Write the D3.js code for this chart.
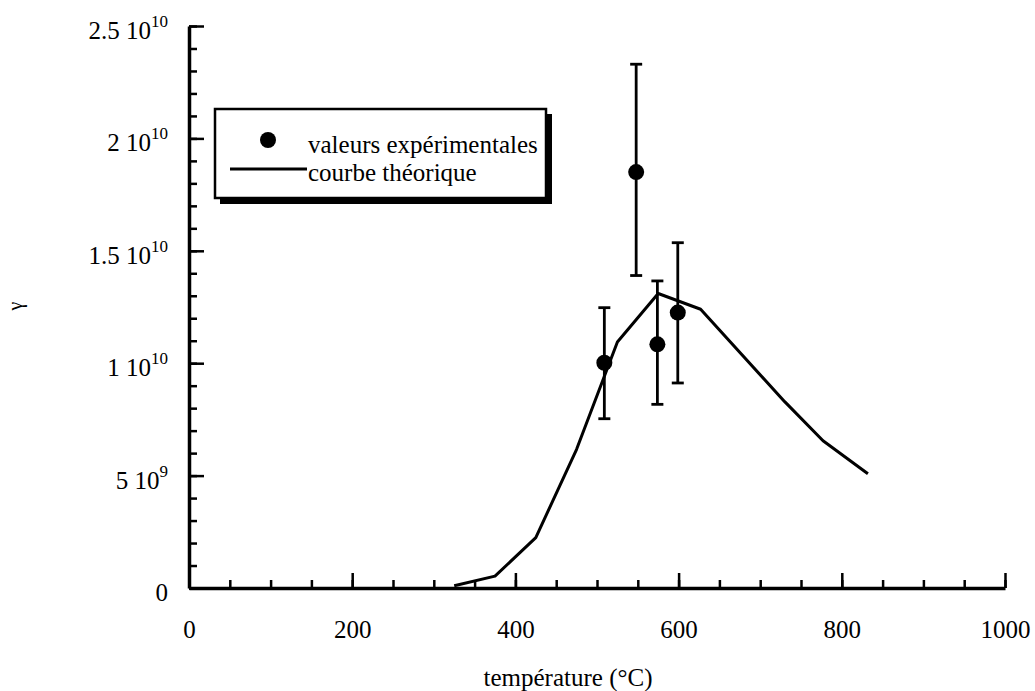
<!DOCTYPE html>
<html>
<head>
<meta charset="utf-8">
<script src="https://cdn.jsdelivr.net/npm/d3@7"></script>
<style>
  body { margin: 0; background: #fff; }
  svg { display: block; }
  text { font-family: "Liberation Serif", "Times New Roman", serif; fill: #000; }
</style>
</head>
<body>
<div id="chart"></div>
<script>
// courbe théorique (température °C, gamma)
var curveT = [325, 375, 425, 475, 525, 575, 627, 730, 777, 832];
var curveG = [0.1e9, 0.53e9, 2.24e9, 6.17e9, 10.94e9, 13.1e9, 12.4e9, 8.29e9, 6.55e9, 5.08e9];

// valeurs expérimentales avec barres d'erreur
var expT = [509, 548, 574, 599];
var expG = [10.02e9, 18.5e9, 10.84e9, 12.25e9];
var expLow = [7.53e9, 13.9e9, 8.17e9, 9.12e9];
var expHigh = [12.47e9, 23.3e9, 13.66e9, 15.36e9];

// graduations
var xTicks = [0, 200, 400, 600, 800, 1000];
var yTicks = [0, 5e9, 1e10, 1.5e10, 2e10, 2.5e10];
var yTickMant = ["0", "5 10", "1 10", "1.5 10", "2 10", "2.5 10"];
var yTickExp = ["", "9", "10", "10", "10", "10"];

var legendLabels = ["valeurs expérimentales", "courbe théorique"];

(function() {
  var width = 1035, height = 691;
  var x, y, svg, g, line, pts, leg;

  x = d3.scaleLinear().domain([0, 1000]).range([189, 1005]);
  y = d3.scaleLinear().domain([0, 2.5e10]).range([588, 26]);

  svg = d3.select("#chart").append("svg").attr("width", width).attr("height", height);

  // minor ticks (pointing inward)
  svg.append("g").attr("transform", "translate(0," + y(0) + ")")
    .call(d3.axisBottom(x).tickValues(d3.range(0, 1001, 50)).tickSize(-8).tickSizeOuter(0).tickFormat(""))
    .call(function(a) { a.select(".domain").remove(); a.selectAll("line").attr("stroke-width", 2.5); });
  svg.append("g").attr("transform", "translate(" + x(0) + ",0)")
    .call(d3.axisLeft(y).tickValues(d3.range(0, 2.5e10 + 1, 1e9)).tickSize(-8).tickSizeOuter(0).tickFormat(""))
    .call(function(a) { a.select(".domain").remove(); a.selectAll("line").attr("stroke-width", 2.5); });

  // major ticks + spines
  g = svg.append("g").attr("transform", "translate(0," + y(0) + ")")
    .call(d3.axisBottom(x).tickValues(xTicks).tickSize(-15).tickSizeOuter(0).tickFormat(d3.format("d")));
  g.select(".domain").attr("stroke-width", 3.5);
  g.selectAll("line").attr("stroke-width", 2.5);
  g.selectAll("text").attr("y", 50).attr("dy", null)
    .style("font-size", "25px").style("font-family", "Liberation Serif");

  g = svg.append("g").attr("transform", "translate(" + x(0) + ",0)")
    .call(d3.axisLeft(y).tickValues(yTicks).tickSize(-15).tickSizeOuter(0).tickFormat(""));
  g.select(".domain").attr("stroke-width", 3.5);
  g.selectAll("line").attr("stroke-width", 2.5);

  // y tick labels with exponent
  var lab = svg.append("g").selectAll("text").data(yTicks).enter().append("text")
    .attr("x", 168)
    .attr("y", function(d) { return y(d) + 13; })
    .attr("text-anchor", "end")
    .style("font-size", "25px");
  lab.append("tspan").text(function(d, i) { return yTickMant[i]; });
  lab.append("tspan")
    .attr("dy", -12)
    .style("font-size", "17px")
    .text(function(d, i) { return yTickExp[i]; });

  // axis titles
  svg.append("text").attr("x", 568).attr("y", 686).attr("text-anchor", "middle")
    .style("font-size", "25px").text("température (°C)");
  svg.append("text").attr("transform", "translate(22,306) rotate(-90)").attr("text-anchor", "middle")
    .style("font-size", "20px").text("γ");

  // theoretical curve
  line = d3.line().x(function(d) { return x(d[0]); }).y(function(d) { return y(d[1]); });
  svg.append("path")
    .datum(d3.zip(curveT, curveG))
    .attr("d", line)
    .attr("fill", "none").attr("stroke", "#000").attr("stroke-width", 3)
    .attr("stroke-linejoin", "round");

  // error bars
  pts = svg.append("g").selectAll("g").data(expT).enter().append("g");
  pts.append("line")
    .attr("x1", function(d) { return x(d); }).attr("x2", function(d) { return x(d); })
    .attr("y1", function(d, i) { return y(expLow[i]); }).attr("y2", function(d, i) { return y(expHigh[i]); })
    .attr("stroke", "#000").attr("stroke-width", 2.8);
  [expLow, expHigh].forEach(function(arr) {
    pts.append("line")
      .attr("x1", function(d) { return x(d) - 6; }).attr("x2", function(d) { return x(d) + 6; })
      .attr("y1", function(d, i) { return y(arr[i]); }).attr("y2", function(d, i) { return y(arr[i]); })
      .attr("stroke", "#000").attr("stroke-width", 2.8);
  });
  pts.append("circle")
    .attr("cx", function(d) { return x(d); })
    .attr("cy", function(d, i) { return y(expG[i]); })
    .attr("r", 8).attr("fill", "#000");

  // legend box with drop shadow
  leg = svg.append("g").attr("transform", "translate(215,109)");
  leg.append("rect").attr("x", 5).attr("y", 5).attr("width", 332).attr("height", 90).attr("fill", "#000");
  leg.append("rect").attr("x", 0).attr("y", 0).attr("width", 331).attr("height", 89)
    .attr("fill", "#fff").attr("stroke", "#000").attr("stroke-width", 2.5);
  leg.append("circle").attr("cx", 53).attr("cy", 31).attr("r", 8).attr("fill", "#000");
  leg.append("line").attr("x1", 15).attr("x2", 92).attr("y1", 60).attr("y2", 60)
    .attr("stroke", "#000").attr("stroke-width", 3);
  leg.selectAll("text.leg").data(legendLabels).enter().append("text")
    .attr("class", "leg")
    .attr("x", 93)
    .attr("y", function(d, i) { return 44 + i * 28; })
    .style("font-size", "25px")
    .text(function(d) { return d; });
})();
</script>
</body>
</html>
